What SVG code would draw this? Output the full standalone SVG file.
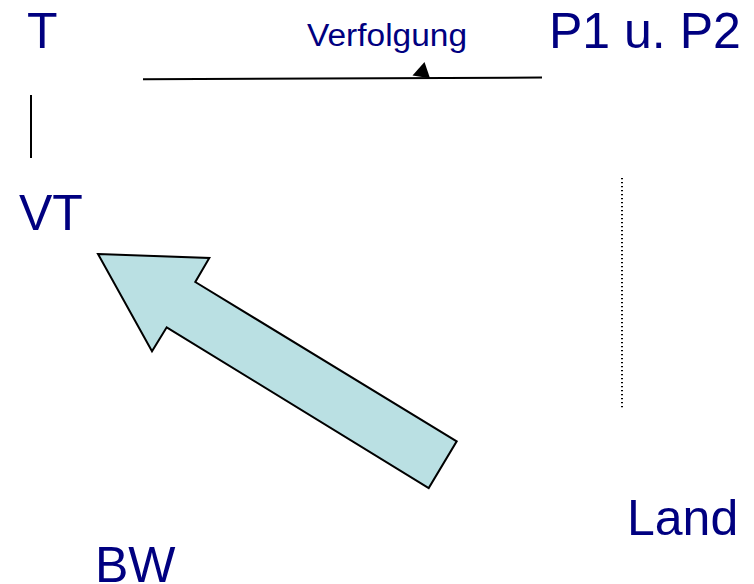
<svg xmlns="http://www.w3.org/2000/svg" width="754" height="584" viewBox="0 0 754 584">
  <style>
    .lbl { font-family: "Liberation Sans", Arial, sans-serif; fill: #000080; }
    .big { font-size: 50px; }
    .small { font-size: 31px; }
    .conn { stroke: #000; fill: none; }
  </style>
  <rect width="754" height="584" fill="#ffffff"/>

  <!-- connectors -->
  <g id="connectors">
    <line class="conn" x1="143" y1="79.3" x2="542" y2="77.6" stroke-width="2"/>
    <polygon points="424.5,62 412.5,75.5 430,78.3" fill="#000"/>
    <line class="conn" x1="31" y1="95" x2="31" y2="158" stroke-width="2"/>
    <line class="conn" x1="622" y1="178" x2="622" y2="408" stroke-width="2" stroke-dasharray="1.3,2.7"/>
  </g>

  <!-- large block arrow -->
  <g id="arrow">
    <polygon points="98,254 209.3,258 195.3,282 456.7,441.3 428.7,488 166.7,327.3 152,351.3" fill="#bae0e3" stroke="#000" stroke-width="2" stroke-linejoin="miter"/>
  </g>

  <g id="node-T"><text class="lbl big" x="27" y="48">T</text></g>
  <g id="node-P"><text class="lbl big" x="549" y="47.7">P1 u. P2</text></g>
  <g id="node-Verfolgung"><text class="lbl small" x="307" y="45.7" textLength="160" lengthAdjust="spacingAndGlyphs">Verfolgung</text></g>
  <g id="node-VT"><text class="lbl big" x="19" y="230">VT</text></g>
  <g id="node-Land"><text class="lbl big" x="627" y="535">Land</text></g>
  <g id="node-BW"><text class="lbl big" x="95" y="582">BW</text></g>
</svg>
